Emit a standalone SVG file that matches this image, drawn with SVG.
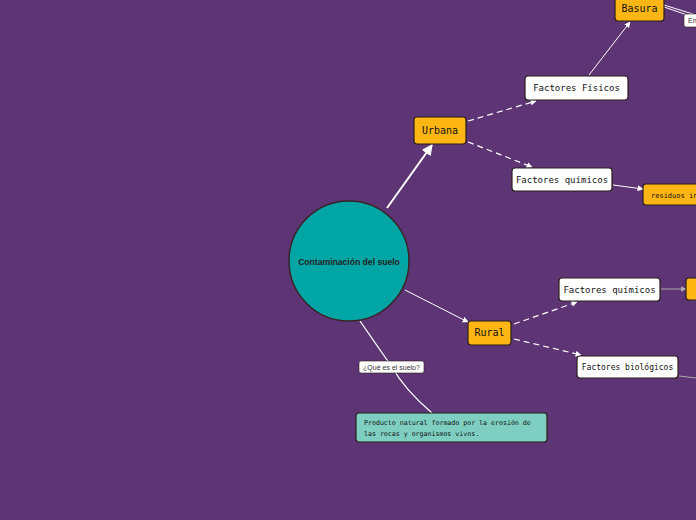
<svg xmlns="http://www.w3.org/2000/svg" width="696" height="520" viewBox="0 0 696 520">
<defs>
<style>
.bg{fill:#5e3574}
.org{fill:#fdb614;stroke:#2a1f1a;stroke-width:1.2}
.wht{fill:#ffffff;stroke:#2a1f1a;stroke-width:1.2}
.t{font-family:"DejaVu Sans Mono","Liberation Mono",monospace;fill:#111;text-anchor:middle}
.c{fill:none;stroke:#ffffff}
.d{fill:none;stroke:#ffffff;stroke-width:1.2;stroke-dasharray:6 4}
</style>
<marker id="ah" viewBox="0 0 10 10" refX="9" refY="5" markerWidth="6" markerHeight="6" orient="auto" markerUnits="userSpaceOnUse"><path d="M0,0 L10,5 L0,10 z" fill="#ffffff"/></marker>
<marker id="ahb" viewBox="0 0 10 10" refX="9" refY="5" markerWidth="11" markerHeight="11" orient="auto" markerUnits="userSpaceOnUse"><path d="M0,0 L10,5 L0,10 z" fill="#ffffff"/></marker>
<marker id="ahg" viewBox="0 0 10 10" refX="9" refY="5" markerWidth="6" markerHeight="6" orient="auto" markerUnits="userSpaceOnUse"><path d="M0,0 L10,5 L0,10 z" fill="#aaaaaa"/></marker>
</defs>
<rect class="bg" x="0" y="0" width="696" height="520"/>
<g id="connectors">
<line class="c" stroke-width="2" x1="387" y1="208" x2="432" y2="145" marker-end="url(#ahb)"/>
<line class="d" x1="468" y1="121" x2="536" y2="101" marker-end="url(#ah)"/>
<line class="d" x1="468" y1="142" x2="532" y2="167" marker-end="url(#ah)"/>
<line class="c" stroke-width="1" x1="589" y1="75" x2="630" y2="22" marker-end="url(#ah)"/>
<line class="c" stroke-width="1" x1="613" y1="185" x2="643" y2="189" marker-end="url(#ah)"/>
<line class="c" stroke-width="1" x1="405" y1="290" x2="468" y2="322" marker-end="url(#ah)"/>
<line class="d" x1="514" y1="324" x2="577" y2="302" marker-end="url(#ah)"/>
<line class="d" x1="514" y1="339" x2="581" y2="355" marker-end="url(#ah)"/>
<line fill="none" stroke="#aaaaaa" stroke-width="1" x1="661" y1="289" x2="686" y2="289" marker-end="url(#ahg)"/>
<line fill="none" stroke="#aaaaaa" stroke-width="1" x1="679" y1="376" x2="696" y2="378"/>
<line class="c" stroke-width="1" x1="664" y1="5" x2="696" y2="15"/>
<line class="c" stroke-width="1" x1="664" y1="7" x2="696" y2="18"/>
<path class="c" stroke-width="1.3" d="M360,321 Q380,350 392,367 Q405,390 432,413"/>
</g>
<g id="node-center">
<circle cx="349" cy="261" r="60" fill="#00a6a6" stroke="#3a2326" stroke-width="1.5"/>
<text x="349" y="265" font-family="'Liberation Sans',Arial,sans-serif" font-weight="bold" font-size="8.6" fill="#222" text-anchor="middle">Contaminación del suelo</text>
</g>
<g id="node-urbana">
<rect class="org" x="414" y="117" width="52" height="27" rx="3"/>
<text class="t" x="440" y="134" font-size="10">Urbana</text>
</g>
<g id="node-fisicos">
<rect class="wht" x="525" y="76" width="103" height="24" rx="3"/>
<text class="t" x="576.5" y="91" font-size="9">Factores Físicos</text>
</g>
<g id="node-basura">
<rect class="org" x="615" y="-3" width="49" height="24" rx="3"/>
<text class="t" x="639.5" y="12" font-size="10">Basura</text>
</g>
<g id="label-en">
<rect x="684" y="14" width="14" height="13" rx="2" fill="#ffffff" stroke="#2a1f1a" stroke-width="0.6"/>
<text x="688" y="23" font-family="'Liberation Sans',Arial,sans-serif" font-size="7" fill="#333">En</text>
</g>
<g id="node-quimicos-u">
<rect class="wht" x="512" y="168" width="100" height="23" rx="3"/>
<text class="t" x="562" y="183" font-size="9">Factores químicos</text>
</g>
<g id="node-residuos">
<rect class="org" x="643" y="184" width="60" height="21" rx="3"/>
<text x="651" y="198" font-family="'DejaVu Sans Mono','Liberation Mono',monospace" font-size="7" fill="#111">residuos in</text>
</g>
<g id="node-rural">
<rect class="org" x="468" y="321" width="43" height="24" rx="3"/>
<text class="t" x="489.5" y="336" font-size="10">Rural</text>
</g>
<g id="node-quimicos-r">
<rect class="wht" x="559" y="278" width="101" height="23" rx="3"/>
<text class="t" x="609.5" y="293" font-size="9">Factores químicos</text>
</g>
<g id="node-right-r">
<rect class="org" x="686" y="278" width="20" height="22" rx="3"/>
</g>
<g id="node-biologicos">
<rect class="wht" x="577" y="356" width="101" height="22" rx="3"/>
<text class="t" x="627.5" y="370" font-size="8">Factores biológicos</text>
</g>
<g id="label-que">
<rect x="359" y="361" width="65" height="12" rx="2" fill="#ffffff" stroke="#2a1f1a" stroke-width="0.6"/>
<text x="391.5" y="370" font-family="'Liberation Sans',Arial,sans-serif" font-size="7" fill="#333" text-anchor="middle">¿Qué es el suelo?</text>
</g>
<g id="node-producto">
<rect x="356" y="413" width="191" height="29" rx="3" fill="#7ecfc1" stroke="#2a1f1a" stroke-width="1.2"/>
<text x="364" y="425" font-family="'DejaVu Sans Mono','Liberation Mono',monospace" font-size="6.6" fill="#111">Producto natural formado por la erosión de</text>
<text x="364" y="436" font-family="'DejaVu Sans Mono','Liberation Mono',monospace" font-size="6.6" fill="#111">las rocas y organismos vivos.</text>
</g>
</svg>
